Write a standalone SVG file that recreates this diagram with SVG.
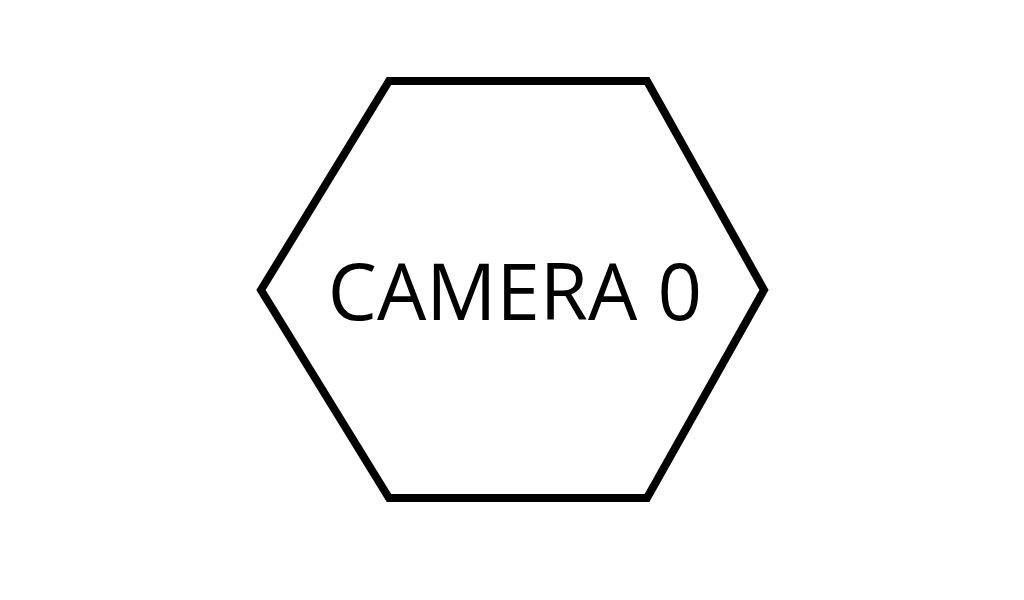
<svg xmlns="http://www.w3.org/2000/svg" width="1024" height="600" viewBox="0 0 1024 600">
<style>
.hex{fill:#fff;stroke:#000;stroke-width:8;stroke-linejoin:miter}
.lbl{font-family:"Open Sans","Noto Sans",sans-serif;font-size:78px;fill:#000;text-anchor:middle}
</style>
<rect width="1024" height="600" fill="#fff"/>
<g id="camera0">
<polygon class="hex" points="389,81 647,81 764,290 647,498 389,498 261,290"/>
<text class="lbl" x="515" y="320">CAMERA 0</text>
</g>
<g id="connectors"/>
</svg>
